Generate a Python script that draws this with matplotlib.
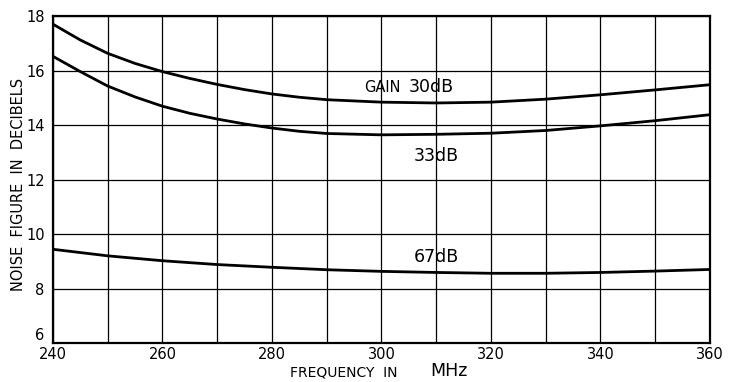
import matplotlib.pyplot as plt

plt.rcParams['font.family'] = ['DejaVu Sans']

# 频率 (MHz) 与三种增益下的噪声系数 (dB)
freq_hi = [240, 245, 250, 255, 260, 265, 270, 275, 280, 285, 290, 300, 310, 320, 330, 340, 350, 360]
nf_30db = [17.70, 17.12, 16.63, 16.26, 15.96, 15.71, 15.49, 15.30, 15.14, 15.02, 14.93, 14.84, 14.81,
           14.84, 14.95, 15.11, 15.29, 15.48]
nf_33db = [16.52, 15.96, 15.43, 15.03, 14.69, 14.43, 14.22, 14.04, 13.89, 13.77, 13.69, 13.64, 13.66,
           13.70, 13.80, 13.97, 14.16, 14.38]
freq_lo = [240, 250, 260, 270, 280, 290, 300, 310, 320, 330, 340, 350, 360]
nf_67db = [9.44, 9.20, 9.02, 8.88, 8.78, 8.69, 8.63, 8.59, 8.56, 8.56, 8.59, 8.64, 8.70]

x_ticks = [240, 250, 260, 270, 280, 290, 300, 310, 320, 330, 340, 350, 360]
x_tick_labels = ['240', '', '260', '', '280', '', '300', '', '320', '', '340', '', '360']
y_ticks = [6, 8, 10, 12, 14, 16, 18]
y_tick_labels = ['6', '8', '10', '12', '14', '16', '18']

fig = plt.figure(figsize=(7.3, 3.82), dpi=100)
ax = fig.add_axes([0.0726, 0.102, 0.9, 0.856])

ax.plot(freq_hi, nf_30db, color='black', lw=2.0, zorder=3)
ax.plot(freq_hi, nf_33db, color='black', lw=2.0, zorder=3)
ax.plot(freq_lo, nf_67db, color='black', lw=2.0, zorder=3)

ax.set_xlim(240, 360)
ax.set_ylim(6, 18)
ax.set_xticks(x_ticks)
ax.set_xticklabels(x_tick_labels, fontsize=10.5)
ax.set_yticks(y_ticks)
ax.set_yticklabels(y_tick_labels, fontsize=10.5)
ax.tick_params(axis='x', length=0, pad=3)
ax.tick_params(axis='y', length=0, pad=6)
# 底部的 "6" 稍微上移，避免和 "240" 挤在一起
ax.get_yticklabels()[0].set_verticalalignment('bottom')
ax.grid(True, color='black', lw=0.9)
for s in ax.spines.values():
    s.set_linewidth(1.6)

# 曲线标注
ax.text(303.5, 15.36, 'GAIN', fontsize=10.5, ha='right', va='center')
ax.text(305.0, 15.4, '30dB', fontsize=12.5, ha='left', va='center')
ax.text(310, 12.85, '33dB', fontsize=12.5, ha='center', va='center')
ax.text(310, 9.17, '67dB', fontsize=12.5, ha='center', va='center')

fig.text(0.025, 0.516, 'NOISE  FIGURE  IN  DECIBELS', rotation=90, fontsize=10.5,
         ha='center', va='center')
fig.text(0.544, 0.024, 'FREQUENCY  IN', fontsize=10, ha='right', va='center')
fig.text(0.589, 0.03, 'MHz', fontsize=12.5, ha='left', va='center')

plt.savefig('out.png', dpi=100, facecolor='white')
plt.close()
